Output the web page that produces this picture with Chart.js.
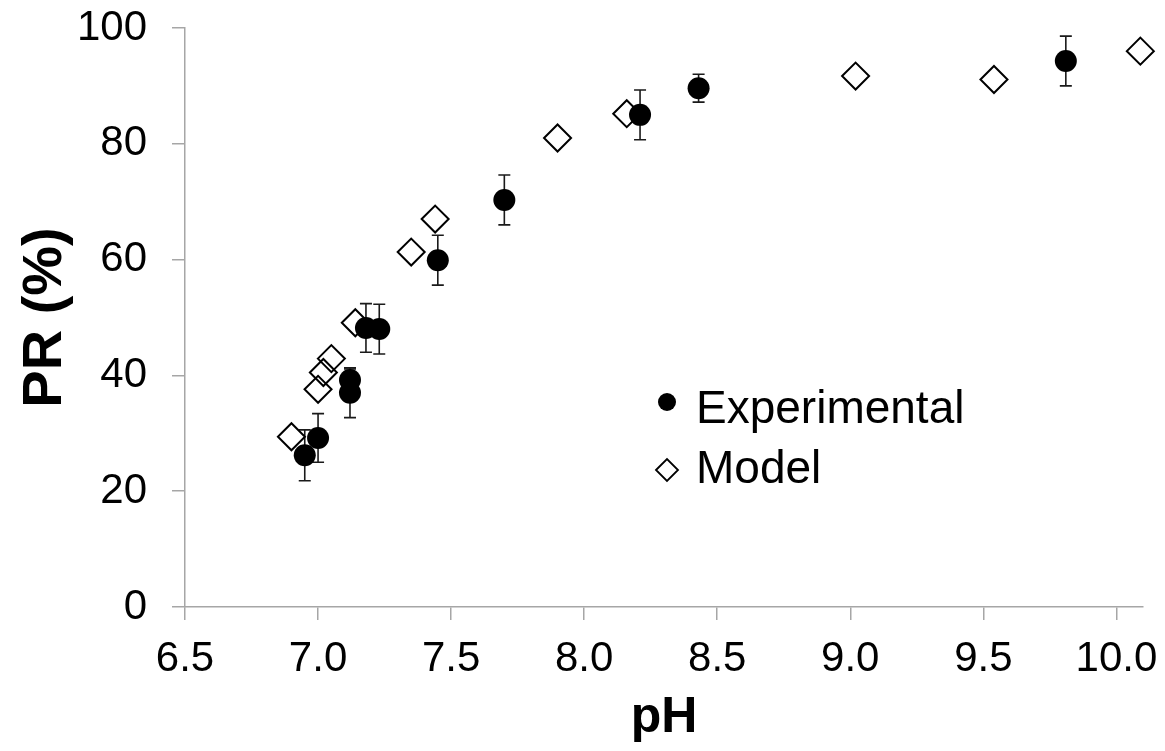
<!DOCTYPE html>
<html>
<head>
<meta charset="utf-8">
<script src="https://cdn.jsdelivr.net/npm/chart.js@4/dist/chart.umd.min.js"></script>
<style>
  html, body { margin: 0; padding: 0; background: #ffffff; }
  #wrap { width: 1165px; height: 751px; position: relative; }
</style>
</head>
<body>
<div id="wrap"><canvas id="c" width="1165" height="751"></canvas></div>
<script>
// ---- data ----
const expPH    = [6.95, 7.00, 7.12, 7.12, 7.18, 7.23, 7.45, 7.70, 8.21, 8.43, 9.81];
const expPR    = [26.2, 29.2, 39.2, 37.0, 48.2, 48.0, 59.9, 70.3, 85.0, 89.6, 94.3];
const expErr   = [4.4, 4.2, 1.9, 4.3, 4.2, 4.3, 4.3, 4.3, 4.3, 2.4, 4.3];
const modelPH  = [6.90, 7.00, 7.02, 7.05, 7.14, 7.35, 7.44, 7.90, 8.16, 9.02, 9.54, 10.09];
const modelPR  = [29.4, 37.6, 40.5, 42.9, 49.1, 61.3, 67.0, 81.0, 85.2, 91.7, 91.1, 96.0];
const xTicks   = [6.5, 7.0, 7.5, 8.0, 8.5, 9.0, 9.5, 10.0];
const yTicks   = [0, 20, 40, 60, 80, 100];
const seriesNames = ['Experimental', 'Model'];
const xTitle = 'pH';
const yTitle = 'PR (%)';

const FONT = "'Liberation Sans', Arial, sans-serif";
const AXIS = '#a6a6a6';

const expPoints = expPH.map((x, i) => ({ x: x, y: expPR[i], e: expErr[i] }));
const modelPoints = modelPH.map((x, i) => ({ x: x, y: modelPR[i] }));

const errorBars = {
  id: 'errorBars',
  beforeDatasetsDraw(chart) {
    const ctx = chart.ctx;
    const xs = chart.scales.x, ys = chart.scales.y;
    ctx.save();
    ctx.strokeStyle = '#1a1a1a';
    ctx.lineWidth = 1.6;
    expPoints.forEach(p => {
      const px = xs.getPixelForValue(p.x);
      const top = ys.getPixelForValue(p.y + p.e);
      const bot = ys.getPixelForValue(p.y - p.e);
      ctx.beginPath();
      ctx.moveTo(px, top); ctx.lineTo(px, bot);
      ctx.moveTo(px - 6, top); ctx.lineTo(px + 6, top);
      ctx.moveTo(px - 6, bot); ctx.lineTo(px + 6, bot);
      ctx.stroke();
    });
    ctx.restore();
  }
};

const customLegend = {
  id: 'customLegend',
  afterDatasetsDraw(chart) {
    const ctx = chart.ctx;
    ctx.save();
    ctx.fillStyle = '#000';
    ctx.beginPath();
    ctx.arc(667, 402, 9, 0, Math.PI * 2);
    ctx.fill();
    ctx.strokeStyle = '#000';
    ctx.lineWidth = 1.8;
    ctx.beginPath();
    ctx.moveTo(667 - 11, 470); ctx.lineTo(667, 459); ctx.lineTo(667 + 11, 470); ctx.lineTo(667, 481); ctx.closePath();
    ctx.stroke();
    ctx.font = '46px ' + FONT;
    ctx.textBaseline = 'alphabetic';
    ctx.textAlign = 'left';
    ctx.fillText(seriesNames[0], 696, 423);
    ctx.fillText(seriesNames[1], 696, 483);
    ctx.restore();
  }
};

new Chart(document.getElementById('c'), {
  type: 'scatter',
  data: {
    datasets: [
      {
        label: seriesNames[0],
        data: expPoints,
        pointStyle: 'circle',
        pointRadius: 11,
        pointHoverRadius: 11,
        backgroundColor: '#000000',
        borderColor: '#000000',
        borderWidth: 0,
        clip: false
      },
      {
        label: seriesNames[1],
        data: modelPoints,
        pointStyle: 'rectRot',
        pointRadius: 13.5,
        pointHoverRadius: 13.5,
        backgroundColor: 'rgba(0,0,0,0)',
        borderColor: '#000000',
        borderWidth: 2,
        clip: false
      }
    ]
  },
  options: {
    responsive: false,
    animation: false,
    devicePixelRatio: 1,
    layout: { padding: { top: 28, right: 22, bottom: 0, left: 0 } },
    plugins: {
      legend: { display: false },
      tooltip: { enabled: false }
    },
    scales: {
      x: {
        type: 'linear',
        min: 6.5,
        max: 10.1,
        afterBuildTicks: s => { s.ticks = xTicks.map(v => ({ value: v })); },
        afterFit: s => { s.height = 144; s.paddingLeft = 0; s.paddingRight = 0; },
        ticks: {
          callback: v => Number(v).toFixed(1),
          color: '#000',
          font: { family: FONT, size: 42 },
          padding: 14,
          maxRotation: 0,
          autoSkip: false
        },
        grid: { drawOnChartArea: false, drawTicks: true, tickLength: 13, color: AXIS, lineWidth: 1.5 },
        border: { display: true, color: AXIS, width: 1.5 },
        title: {
          display: true,
          text: xTitle,
          color: '#000',
          font: { family: FONT, size: 50, weight: 'bold' },
          padding: { top: 0, bottom: 3 }
        }
      },
      y: {
        type: 'linear',
        min: 0,
        max: 100,
        afterBuildTicks: s => { s.ticks = yTicks.map(v => ({ value: v })); },
        afterFit: s => { s.width = 185; s.paddingTop = 0; s.paddingBottom = 0; },
        ticks: {
          color: '#000',
          font: { family: FONT, size: 42 },
          padding: 25
        },
        grid: { drawOnChartArea: false, drawTicks: true, tickLength: 13, color: AXIS, lineWidth: 1.5 },
        border: { display: true, color: AXIS, width: 1.5 },
        title: {
          display: true,
          text: yTitle,
          color: '#000',
          font: { family: FONT, size: 56, weight: 'bold' },
          padding: { top: 12, bottom: 0 }
        }
      }
    }
  },
  plugins: [errorBars, customLegend]
});
</script>
</body>
</html>
